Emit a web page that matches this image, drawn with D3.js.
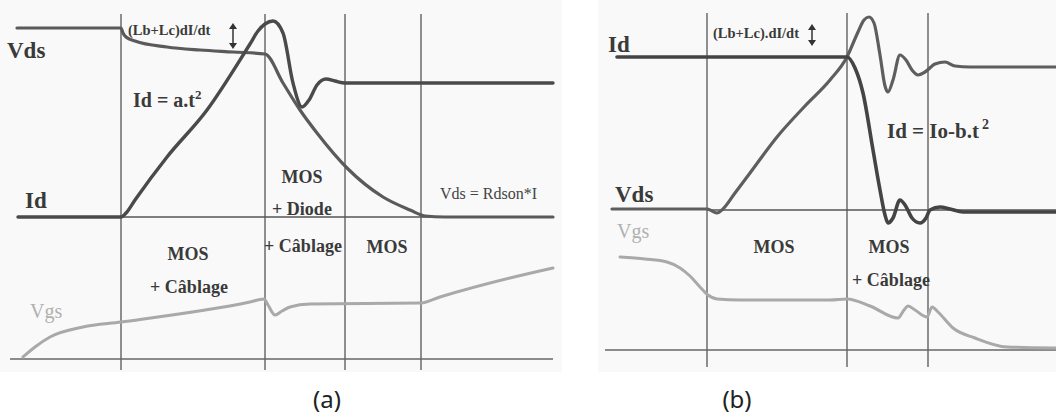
<!DOCTYPE html>
<html><head><meta charset="utf-8">
<script src="https://cdn.jsdelivr.net/npm/d3@7"></script>
<style>
body{margin:0;background:#fff;}
svg{display:block;}
</style></head>
<body><svg id="c" width="1056" height="417"></svg>
<script>
// ---------- DATA (arbitrary time / level units) ----------
// Panel (a): turn-on
const phaseA = [111, 255, 335, 411];
const vdsA_t = [7,111,113,116,125,157,190,223,255,273,290,307,337,373,400,415,435,543];
const vdsA_v = [331,331,326,322,318,312,309,307,305,276,249,226,191,162,149,143,142,142];
const idA_t = [8,111,116,125,157,197,235,240,248,255,263,273,283,292,299,307,316,325,335,543];
const idA_v = [142,142,146,159,202,249,307,315,328,335,338,326,276,252,259,274,280,278,276,276];
const vgsA_t = [13,25,40,73,111,240,254,258,265,272,280,300,411,430,500,543];
const vgsA_v = [2,12,22,32,37,57,60,54,44,48,52,55,56,62,81,91];
// Panel (b): turn-off
const phaseB = [102, 242, 323];
const idB_t = [12,242,250,258,268,275,280,283,288,295,300,307,315,321,325,335,345,358,451];
const idB_v = [293,293,282,257,200,160,135,127,132,150,145,132,127,132,140,143,141,138,138];
const vdsB_t = [7,102,107,112,118,130,145,172,200,225,242,253,259,264,269,275,280,283,288,295,301,307,313,320,330,340,350,365,451];
const vdsB_v = [141,141,139,137,141,157,177,213,244,270,293,318,330,333,327,295,264,258,270,295,290,280,275,278,286,288,284,283,283];
const vgsB_t = [15,40,62,75,85,95,103,112,135,225,242,265,293,299,303,310,322,327,333,348,370,402,451];
const vgsB_v = [93,91,88,82,74,63,55,51,50,50,51,44,32,40,44,40,33,43,38,22,12,3,2];

const zonesA = ["MOS", "+ Câblage", "MOS", "+ Diode", "+ Câblage", "MOS"];
const zonesB = ["MOS", "MOS", "+ Câblage"];

// ---------- DRAW ----------
const SERIF = "'Liberation Serif','DejaVu Serif',serif";
const SANS = "'Noto Sans','DejaVu Sans',sans-serif";
const svg = d3.select("#c");
const zip = (t, v) => t.map((d, i) => [d, v[i]]);

svg.append("rect").attr("x",0).attr("y",0).attr("width",562).attr("height",372).attr("fill","#f9f9f9");
svg.append("rect").attr("x",598).attr("y",0).attr("width",458).attr("height",372).attr("fill","#f9f9f9");

function panel(xs, ys, phases, vTop, vBot, baseV, baseT0, tMax) {
  const g = svg.append("g");
  phases.forEach(t => g.append("line")
    .attr("x1", xs(t)).attr("x2", xs(t)).attr("y1", ys(vTop)).attr("y2", ys(vBot))
    .attr("stroke", "#555").attr("stroke-width", 1.3));
  g.append("line").attr("x1", xs(0)).attr("x2", xs(tMax)).attr("y1", ys(0)).attr("y2", ys(0))
    .attr("stroke", "#666").attr("stroke-width", 1.5);
  g.append("line").attr("x1", xs(baseT0)).attr("x2", xs(tMax)).attr("y1", ys(baseV)).attr("y2", ys(baseV))
    .attr("stroke", "#555").attr("stroke-width", 1.3);
  return g;
}
function curve(g, xs, ys, data, color, w) {
  const line = d3.line().x(d => xs(d[0])).y(d => ys(d[1])).curve(d3.curveMonotoneX);
  g.append("path").attr("d", line(data)).attr("fill", "none")
    .attr("stroke", color).attr("stroke-width", w)
    .attr("stroke-linejoin", "round").attr("stroke-linecap", "round");
}
function dblArrow(x, y1, y2) {
  svg.append("line").attr("x1", x).attr("x2", x).attr("y1", y1 + 3).attr("y2", y2 - 3)
    .attr("stroke", "#333").attr("stroke-width", 1.5);
  svg.append("path").attr("d", `M${x-4},${y1+6}L${x},${y1}L${x+4},${y1+6}Z`).attr("fill", "#333");
  svg.append("path").attr("d", `M${x-4},${y2-6}L${x},${y2}L${x+4},${y2-6}Z`).attr("fill", "#333");
}
function txt(x, y, s, size, opts = {}) {
  const t = svg.append("text").attr("x", x).attr("y", y)
    .attr("font-family", opts.f || SERIF)
    .attr("font-size", size).attr("font-weight", opts.w || "bold")
    .attr("fill", opts.c || "#3a3a3a").attr("text-anchor", opts.a || "start");
  t.text(s);
  return t;
}

// Panel (a)
const xa = d3.scaleLinear().domain([0, 543]).range([10, 553]);
const ya = d3.scaleLinear().domain([0, 345]).range([359, 14]);
const ga = panel(xa, ya, phaseA, 345, -11, 142, 111, 543);
curve(ga, xa, ya, zip(vgsA_t, vgsA_v), "#a9a9a9", 3);
curve(ga, xa, ya, zip(vdsA_t, vdsA_v), "#5a5a5a", 3.2);
curve(ga, xa, ya, zip(idA_t, idA_v), "#4a4a4a", 3.4);

// Panel (b)
const xb = d3.scaleLinear().domain([0, 451]).range([605, 1056]);
const yb = d3.scaleLinear().domain([0, 337]).range([350, 13]);
const gb = panel(xb, yb, phaseB, 337, -17, 140, 102, 451);
curve(gb, xb, yb, zip(vgsB_t, vgsB_v), "#a9a9a9", 3);
curve(gb, xb, yb, zip(vdsB_t, vdsB_v), "#5e5e5e", 3.2);
curve(gb, xb, yb, zip(idB_t, idB_v), "#444", 3.6);

// Annotations (a)
txt(7, 58, "Vds", 23);
txt(25, 208, "Id", 23);
const ida = txt(133, 107, "Id = a.t", 20);
ida.append("tspan").attr("dy", -8).attr("font-size", 13).text("2");
txt(128, 35, "(Lb+Lc)dI/dt", 14.5);
dblArrow(233, 23, 49);
txt(30, 318, "Vgs", 20, {w: "normal", c: "#b0b0b0"});
txt(188, 260, zonesA[0], 18, {a: "middle"});
txt(189, 293, zonesA[1], 18, {a: "middle"});
txt(302, 183, zonesA[2], 18, {a: "middle"});
txt(302, 215, zonesA[3], 18, {a: "middle"});
txt(303, 252, zonesA[4], 18, {a: "middle"});
txt(387, 253, zonesA[5], 18, {a: "middle"});
txt(440, 199, "Vds = Rdson*I", 16, {w: "normal", c: "#444"});
txt(327, 408, "(a)", 24, {w: "normal", c: "#222", a: "middle", f: SANS});

// Annotations (b)
txt(608, 52, "Id", 23);
txt(713, 38, "(Lb+Lc).dI/dt", 14.5);
dblArrow(812, 24, 46);
txt(615, 202, "Vds", 23);
txt(617, 238, "Vgs", 20, {w: "normal", c: "#b0b0b0"});
const idb = txt(887, 138, "Id = Io-b.t", 21);
idb.append("tspan").attr("dy", -9).attr("dx", 3).attr("font-size", 14).text("2");
txt(774, 253, zonesB[0], 18, {a: "middle"});
txt(889, 253, zonesB[1], 18, {a: "middle"});
txt(891, 286, zonesB[2], 18, {a: "middle"});
txt(737, 408, "(b)", 24, {w: "normal", c: "#222", a: "middle", f: SANS});
</script></body></html>
